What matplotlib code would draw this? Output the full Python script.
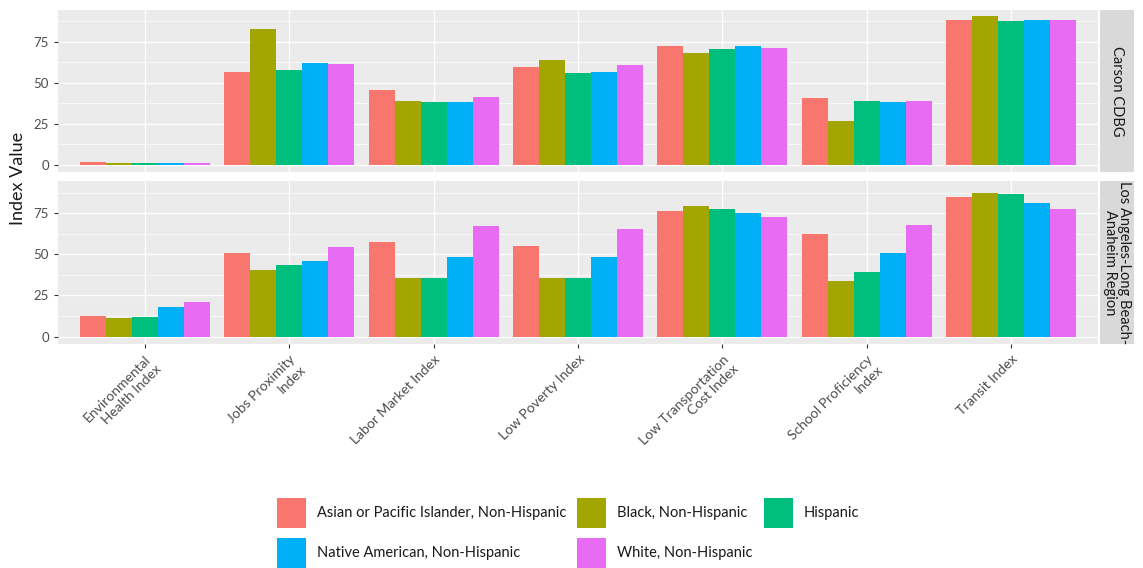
import numpy as np
import matplotlib.pyplot as plt
from matplotlib.patches import Patch

plt.rcParams['font.family'] = ['Lato', 'DejaVu Sans']

categories = ["Environmental\nHealth Index", "Jobs Proximity\nIndex", "Labor Market Index",
              "Low Poverty Index", "Low Transportation\nCost Index", "School Proficiency\nIndex",
              "Transit Index"]
groups = ["Asian or Pacific Islander, Non-Hispanic", "Black, Non-Hispanic", "Hispanic",
          "Native American, Non-Hispanic", "White, Non-Hispanic"]
colors = ["#F8766D", "#A3A500", "#00BF7D", "#00B0F6", "#E76BF3"]
facets = ["Carson CDBG", "Los Angeles-Long Beach-\nAnaheim Region"]

# values per group, one entry per category
carson = {
    "Asian or Pacific Islander, Non-Hispanic": [1.5, 56.6, 45.4, 59.9, 72.2, 40.5, 88.3],
    "Black, Non-Hispanic": [0.8, 82.8, 38.8, 64.0, 68.1, 26.5, 90.9],
    "Hispanic": [1.2, 57.6, 38.0, 56.0, 70.5, 39.0, 87.5],
    "Native American, Non-Hispanic": [1.2, 62.3, 38.0, 56.8, 72.2, 38.0, 88.3],
    "White, Non-Hispanic": [1.3, 61.7, 41.3, 60.7, 71.3, 39.0, 88.3],
}
region = {
    "Asian or Pacific Islander, Non-Hispanic": [12.8, 50.7, 57.3, 54.8, 76.0, 62.2, 84.8],
    "Black, Non-Hispanic": [11.2, 40.3, 35.6, 35.6, 79.3, 33.6, 87.4],
    "Hispanic": [12.2, 43.6, 35.6, 35.6, 77.6, 39.3, 86.4],
    "Native American, Non-Hispanic": [17.9, 46.0, 48.5, 48.5, 75.2, 50.9, 80.9],
    "White, Non-Hispanic": [21.0, 54.2, 67.1, 65.6, 72.7, 67.7, 77.4],
}

W, H = 1143, 568
fig = plt.figure(figsize=(W / 100, H / 100), dpi=100)

x = np.arange(len(categories))
bw = 0.9 / len(groups)
panels = [(10, 172), (181, 344)]

for i, (data, (top, bot)) in enumerate(zip([carson, region], panels)):
    ax = fig.add_axes([58 / W, (H - bot) / H, 1040 / W, (bot - top) / H])
    ax.set_facecolor("#EBEBEB")
    for j, g in enumerate(groups):
        ax.bar(x + (j - 2) * bw, data[g], width=bw, color=colors[j], zorder=3)
    ax.set_xlim(-0.6, len(categories) - 0.4)
    ax.set_ylim(-4.5, 94.5)
    ax.set_yticks([0, 25, 50, 75])
    ax.set_yticks([12.5, 37.5, 62.5, 87.5], minor=True)
    ax.set_xticks(x)
    ax.grid(True, which="major", color="white", linewidth=1.0, zorder=0)
    ax.grid(True, which="minor", axis="y", color="white", linewidth=0.5, zorder=0)
    ax.set_axisbelow(True)
    for s in ax.spines.values():
        s.set_visible(False)
    ax.tick_params(axis="both", which="major", color="#333333", length=3, width=0.8,
                   labelsize=9.5, labelcolor="#4D4D4D")
    ax.tick_params(axis="y", which="minor", length=0)
    ax.tick_params(axis="x", which="minor", length=0)
    if i == 0:
        ax.set_xticklabels([])
        ax.tick_params(axis="x", length=0)
    else:
        ax.set_xticklabels(categories, rotation=45, ha="right", va="top",
                           rotation_mode="anchor", ma="right", fontsize=10)

    # facet strip
    sax = fig.add_axes([1100 / W, (H - bot) / H, 34 / W, (bot - top) / H])
    sax.set_facecolor("#D9D9D9")
    sax.set_xticks([])
    sax.set_yticks([])
    for s in sax.spines.values():
        s.set_visible(False)
    sax.text(0.5, 0.5, facets[i], rotation=-90, ha="center", va="center",
             fontsize=10.5, color="#1A1A1A", transform=sax.transAxes, linespacing=0.95)

fig.text(18 / W, (H - 178) / H, "Index Value", rotation=90, ha="center", va="center",
         fontsize=13, color="#1A1A1A")

# legend filled column by column -> reorder so rows read like the original
order = [0, 3, 1, 4, 2]
handles = [Patch(facecolor=colors[k], edgecolor="none") for k in order]
labels = [groups[k] for k in order]
fig.legend(handles, labels, ncol=3, loc="center", bbox_to_anchor=(568 / W, (H - 533) / H),
           frameon=False, fontsize=10.5, handlelength=2.0, handleheight=2.78,
           handletextpad=0.75, columnspacing=0.75, labelspacing=0.68, labelcolor="#1A1A1A")

fig.savefig("out.png", dpi=100)
